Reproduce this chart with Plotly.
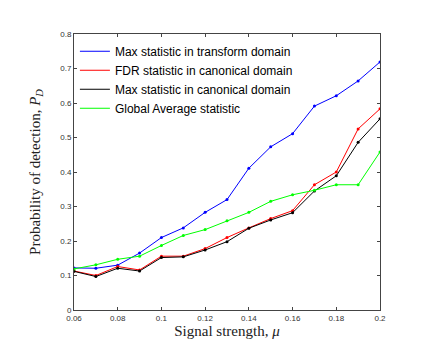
import plotly.graph_objects as go

mu = [0.06, 0.07, 0.08, 0.09, 0.10, 0.11, 0.12, 0.13, 0.14, 0.15, 0.16, 0.17, 0.18, 0.19, 0.20]

max_transform = [0.122, 0.121, 0.130, 0.165, 0.210, 0.238, 0.283, 0.320, 0.411, 0.473, 0.511, 0.591, 0.621, 0.664, 0.719]
fdr_canonical = [0.113, 0.100, 0.126, 0.116, 0.156, 0.156, 0.178, 0.210, 0.238, 0.265, 0.288, 0.363, 0.400, 0.525, 0.583]
max_canonical = [0.112, 0.097, 0.121, 0.113, 0.152, 0.154, 0.174, 0.198, 0.237, 0.261, 0.282, 0.345, 0.389, 0.486, 0.554]
global_average = [0.119, 0.131, 0.147, 0.156, 0.187, 0.216, 0.233, 0.259, 0.283, 0.315, 0.334, 0.347, 0.363, 0.363, 0.458]

series = [
    ("Max statistic in transform domain", max_transform, "#0000ff"),
    ("FDR statistic in canonical domain", fdr_canonical, "#ff0000"),
    ("Max statistic in canonical domain", max_canonical, "#000000"),
    ("Global Average statistic", global_average, "#00ff00"),
]

x_ticks = [0.06, 0.08, 0.1, 0.12, 0.14, 0.16, 0.18, 0.2]
x_ticklabels = ["0.06", "0.08", "0.1", "0.12", "0.14", "0.16", "0.18", "0.2"]
y_ticks = [0, 0.1, 0.2, 0.3, 0.4, 0.5, 0.6, 0.7, 0.8]
y_ticklabels = ["0", "0.1", "0.2", "0.3", "0.4", "0.5", "0.6", "0.7", "0.8"]

fig = go.Figure()
for name, values, color in series:
    # line goes in the legend, the point markers stay out of it
    fig.add_trace(
        go.Scatter(
            x=mu,
            y=values,
            name=name,
            mode="lines",
            line=dict(color=color, width=1),
        )
    )
    fig.add_trace(
        go.Scatter(
            x=mu,
            y=values,
            mode="markers",
            marker=dict(color=color, size=3),
            showlegend=False,
        )
    )

axis_style = dict(
    showline=True,
    linecolor="#444",
    linewidth=1,
    mirror="ticks",
    ticks="inside",
    ticklen=3,
    tickcolor="#444",
    showgrid=False,
    zeroline=False,
    tickfont=dict(family="Liberation Sans, Arial", size=8, color="#333"),
)

fig.update_xaxes(
    range=[0.06, 0.2],
    tickvals=x_ticks,
    ticktext=x_ticklabels,
    title=dict(
        text="Signal strength, <i>μ</i>",
        font=dict(family="Liberation Serif, serif", size=15, color="#222"),
        standoff=1,
    ),
    **axis_style,
)
fig.update_yaxes(
    range=[0, 0.8],
    tickvals=y_ticks,
    ticktext=y_ticklabels,
    title=dict(
        text="Probability of detection, <i>P</i><sub><i>D</i></sub>",
        font=dict(family="Liberation Serif, serif", size=15, color="#222"),
        standoff=16,
    ),
    **axis_style,
)

fig.update_layout(
    width=440,
    height=340,
    margin=dict(l=66, r=68, t=26, b=38),
    paper_bgcolor="white",
    plot_bgcolor="white",
    showlegend=True,
    legend=dict(
        x=0.003,
        y=0.99,
        xanchor="left",
        yanchor="top",
        bgcolor="rgba(0,0,0,0)",
        font=dict(family="Liberation Sans, Arial", size=12, color="#000"),
        itemwidth=30,
        tracegroupgap=0,
    ),
)

fig.write_html("out.html")
